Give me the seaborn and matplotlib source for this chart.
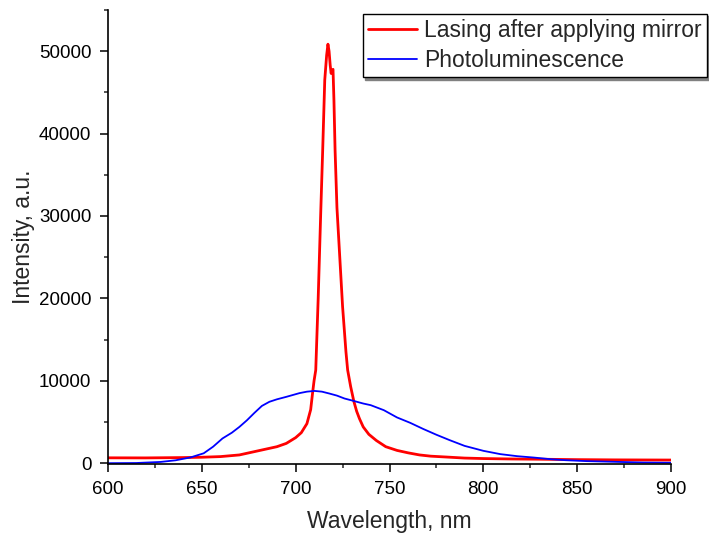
import matplotlib
matplotlib.use("Agg")
import matplotlib.pyplot as plt
from matplotlib.ticker import MultipleLocator
import seaborn as sns

# Lasing spectrum (after applying mirror)
wl_lasing = [600, 620, 640, 650, 660, 670, 680, 690, 695, 700, 703, 706, 708, 709, 709.8,
             710.7, 712, 713.3, 714.4, 715.5, 716.5, 717.2, 717.8, 718.4, 718.9, 719.3,
             719.9, 720.4, 721, 722, 723.6, 725, 726.8, 727.7, 729.3, 731, 732.5, 734,
             736, 739, 743, 748, 754, 760, 766, 772, 780, 790, 800, 815, 830, 850, 870, 900]
int_lasing = [650, 640, 680, 720, 800, 1000, 1500, 2000, 2400, 3100, 3700, 4800, 6500, 8500, 10000,
              11300, 20000, 30000, 38000, 46500, 49500, 50850, 50000, 48300, 47300, 47600,
              47800, 44000, 38000, 31000, 24600, 19000, 13500, 11300, 9300, 7500, 6300, 5400,
              4400, 3500, 2750, 2000, 1550, 1250, 1000, 850, 750, 620, 560, 510, 480, 430, 400, 380]

# Photoluminescence spectrum
wl_pl = [600, 615, 628, 636, 644, 651, 656, 661, 666, 670, 674, 678, 682, 686, 690, 695, 702, 706,
         710, 714, 718, 722, 726, 731, 736, 740, 747, 754, 761, 768, 775, 782, 790, 800, 809,
         818, 827, 836, 844, 855, 871, 885, 900]
int_pl = [0, 20, 150, 350, 700, 1200, 2000, 3000, 3700, 4400, 5200, 6100, 6950, 7450, 7750, 8050, 8500, 8680,
          8770, 8680, 8450, 8200, 7850, 7550, 7240, 7040, 6430, 5550, 4900, 4150, 3450, 2800, 2100, 1500, 1100,
          850, 680, 480, 360, 250, 160, 80, 50]

LABEL_LASING = "Lasing after applying mirror"
LABEL_PL = "Photoluminescence"

sns.set_style("ticks")
plt.rcParams['font.family'] = ['Liberation Sans', 'DejaVu Sans']

fig = plt.figure(figsize=(7.09, 5.36), dpi=100)
ax = fig.add_axes([108 / 709, 1 - 464 / 536, (671 - 108) / 709, (464 - 10) / 536])

sns.lineplot(x=wl_lasing, y=int_lasing, ax=ax, color='#ff0000', linewidth=2.0,
             estimator=None, sort=False, label=LABEL_LASING)
sns.lineplot(x=wl_pl, y=int_pl, ax=ax, color='#0000ff', linewidth=1.3,
             estimator=None, sort=False, label=LABEL_PL)

ax.set_xlim(600, 900)
ax.set_ylim(-100, 55000)
ax.xaxis.set_major_locator(MultipleLocator(50))
ax.xaxis.set_minor_locator(MultipleLocator(25))
ax.yaxis.set_major_locator(MultipleLocator(10000))
ax.yaxis.set_minor_locator(MultipleLocator(5000))

for side in ['top', 'right']:
    ax.spines[side].set_visible(False)
for side in ['left', 'bottom']:
    ax.spines[side].set_linewidth(1.2)
    ax.spines[side].set_color('black')

ax.tick_params(which='major', direction='out', length=5.5, width=1.1, labelsize=13.5, pad=6.5, colors='black')
ax.tick_params(which='minor', direction='out', length=3, width=1.1)

ax.set_xlabel("Wavelength, nm", fontsize=16.5, labelpad=9)
ax.set_ylabel("Intensity, a.u.", fontsize=16.5, labelpad=3)

leg = ax.legend(loc='upper left', bbox_to_anchor=(363 / 709, 1 - 14 / 536),
                bbox_transform=fig.transFigure, fontsize=16.5, frameon=True,
                fancybox=False, edgecolor='black', framealpha=1, borderaxespad=0,
                borderpad=0.22, handlelength=2.15, handletextpad=0.3, labelspacing=0.32,
                shadow={'ox': 1.5, 'oy': -1.5, 'color': 'gray', 'alpha': 1})
leg.get_frame().set_linewidth(1.0)

fig.savefig("out.png", dpi=100)
